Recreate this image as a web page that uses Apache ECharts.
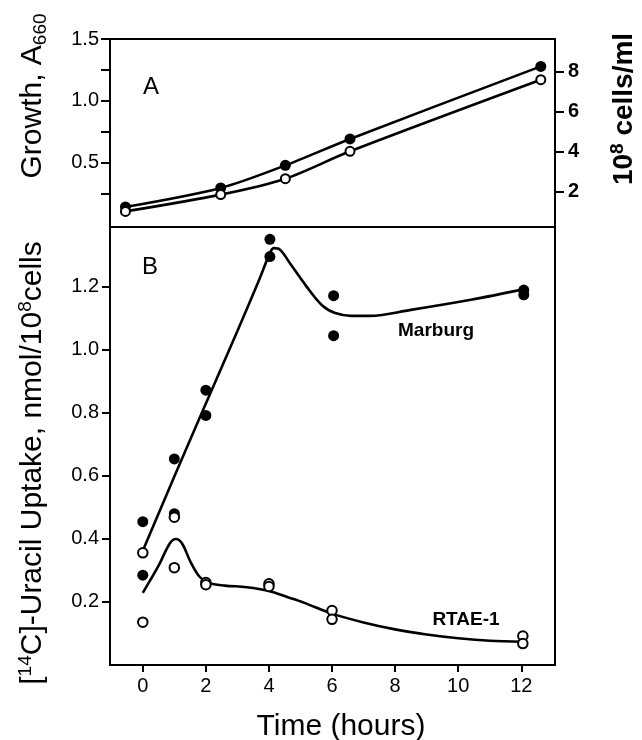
<!DOCTYPE html>
<html>
<head>
<meta charset="utf-8">
<script src="https://cdn.jsdelivr.net/npm/echarts@6/dist/echarts.min.js"></script>
<style>
  html, body { margin: 0; padding: 0; background: #fff; }
  #chart { width: 642px; height: 740px; }
</style>
</head>
<body>
<div id="chart"></div>
<script>
// panel A: growth (A660) of the two cultures
var growthHours = [-0.55, 2.47, 4.52, 6.57, 12.62]
var growthFilled = [0.139, 0.293, 0.476, 0.690, 1.278]
var growthOpen = [0.103, 0.239, 0.368, 0.590, 1.170]

// panel B: measured uptake points
var marburgHours = [0, 0, 1, 1, 2, 2, 4.03, 4.03, 6.05, 6.05, 12.08, 12.08]
var marburgValues = [0.455, 0.285, 0.654, 0.480, 0.872, 0.792, 1.351, 1.296, 1.172, 1.045, 1.190, 1.175]
var rtaeHours = [0, 0, 1, 1, 2, 2, 4, 4, 6, 6, 12.05, 12.05]
var rtaeValues = [0.356, 0.136, 0.469, 0.309, 0.262, 0.255, 0.258, 0.249, 0.173, 0.145, 0.092, 0.068]

// panel B: drawn curves
var marburgFitHours = [0.02, 1, 2, 3, 3.7, 4.0, 4.15, 4.35, 4.7, 5.2, 5.7, 6.1, 6.6, 7.2, 8.5, 10.4, 12.05]
var marburgFitValues = [0.367, 0.598, 0.83, 1.06, 1.225, 1.30, 1.323, 1.318, 1.27, 1.20, 1.14, 1.117, 1.108, 1.108, 1.127, 1.159, 1.192]
var rtaeFitHours = [0, 0.5, 0.85, 1.05, 1.25, 1.5, 1.8, 2.1, 2.6, 3.3, 4, 4.6, 5.1, 6, 7, 8, 9, 10, 11, 12.05]
var rtaeFitValues = [0.229, 0.315, 0.385, 0.40, 0.385, 0.33, 0.28, 0.26, 0.252, 0.247, 0.235, 0.215, 0.198, 0.163, 0.135, 0.113, 0.097, 0.085, 0.077, 0.074]

// tick labels
var hourTicks = [0, 2, 4, 6, 8, 10, 12]
var growthTicks = [0.25, 0.5, 0.75, 1.0, 1.25, 1.5]
var growthLabels = [0.5, 1.0, 1.5]
var cellTicks = [2, 4, 6, 8]
var uptakeTicks = [0.2, 0.4, 0.6, 0.8, 1.0, 1.2]

function pairs(xs, ys) {
  var out = []
  for (var i = 0; i < xs.length; i++) out.push([xs[i], ys[i]])
  return out
}

var FONT = 'Liberation Sans'
var chart = echarts.init(document.getElementById('chart'))

var axisLine = { show: true, onZero: false, lineStyle: { color: '#000', width: 2 } }

var option = {
  animation: false,
  backgroundColor: '#fff',
  textStyle: { fontFamily: FONT, color: '#000' },
  grid: [
    { left: 110, top: 39, width: 445, height: 188, show: true, borderColor: '#000', borderWidth: 2 },
    { left: 110, top: 227, width: 445, height: 438, show: true, borderColor: '#000', borderWidth: 2 }
  ],
  xAxis: [
    {
      gridIndex: 0, type: 'value', min: -1.04, max: 13.07,
      axisLine: { show: false, onZero: false }, axisTick: { show: false }, axisLabel: { show: false }, splitLine: { show: false }
    },
    {
      gridIndex: 1, type: 'value', position: 'bottom', min: -1.04, max: 13.07,
      axisLine: axisLine,
      axisTick: { show: true, length: 7, customValues: hourTicks, lineStyle: { color: '#000', width: 2 } },
      axisLabel: { customValues: hourTicks, margin: 11, fontSize: 20, color: '#000', fontFamily: FONT },
      splitLine: { show: false }
    }
  ],
  yAxis: [
    {
      gridIndex: 0, type: 'value', position: 'left', min: -0.0235, max: 1.5,
      axisLine: axisLine,
      axisTick: { show: true, length: 9, customValues: growthTicks, lineStyle: { color: '#000', width: 2 } },
      axisLabel: {
        customValues: growthLabels, margin: 11, fontSize: 20, color: '#000', fontFamily: FONT,
        formatter: function (v) { return v.toFixed(1) }
      },
      splitLine: { show: false }
    },
    {
      gridIndex: 0, type: 'value', position: 'right', min: 0.22, max: 9.62,
      axisLine: axisLine,
      axisTick: { show: true, length: 9, customValues: cellTicks, lineStyle: { color: '#000', width: 2 } },
      axisLabel: { customValues: cellTicks, margin: 13, fontSize: 20, fontWeight: 'bold', color: '#000', fontFamily: FONT },
      splitLine: { show: false }
    },
    {
      gridIndex: 1, type: 'value', position: 'left', min: 0, max: 1.39,
      axisLine: axisLine,
      axisTick: { show: true, length: 8, customValues: uptakeTicks, lineStyle: { color: '#000', width: 2 } },
      axisLabel: {
        customValues: uptakeTicks, margin: 11, fontSize: 20, color: '#000', fontFamily: FONT,
        formatter: function (v) { return v.toFixed(1) }
      },
      splitLine: { show: false }
    }
  ],
  series: [
    {
      type: 'line', xAxisIndex: 0, yAxisIndex: 0, data: pairs(growthHours, growthFilled), smooth: 0.3,
      symbol: 'circle', symbolSize: 11, itemStyle: { color: '#000' }, lineStyle: { color: '#000', width: 2.6 }, z: 3
    },
    {
      type: 'line', xAxisIndex: 0, yAxisIndex: 0, data: pairs(growthHours, growthOpen), smooth: 0.3,
      symbol: 'circle', symbolSize: 9, itemStyle: { color: '#fff', borderColor: '#000', borderWidth: 2 },
      lineStyle: { color: '#000', width: 2.6 }, z: 4
    },
    {
      type: 'line', xAxisIndex: 1, yAxisIndex: 2, data: pairs(marburgFitHours, marburgFitValues), smooth: 0.35,
      showSymbol: false, lineStyle: { color: '#000', width: 2.6 }, z: 2
    },
    {
      type: 'line', xAxisIndex: 1, yAxisIndex: 2, data: pairs(rtaeFitHours, rtaeFitValues), smooth: 0.35,
      showSymbol: false, lineStyle: { color: '#000', width: 2.6 }, z: 2
    },
    {
      type: 'scatter', xAxisIndex: 1, yAxisIndex: 2, data: pairs(marburgHours, marburgValues),
      symbol: 'circle', symbolSize: 11, itemStyle: { color: '#000', opacity: 1 }, z: 3
    },
    {
      type: 'scatter', xAxisIndex: 1, yAxisIndex: 2, data: pairs(rtaeHours, rtaeValues),
      symbol: 'circle', symbolSize: 9.5, itemStyle: { color: '#fff', borderColor: '#000', borderWidth: 2, opacity: 1 }, z: 4
    }
  ],
  graphic: [
    {
      type: 'text', x: 33, y: 96, rotation: Math.PI / 2,
      style: {
        text: 'Growth, A{sub|660}', font: '30px ' + FONT, fill: '#000', align: 'center', verticalAlign: 'middle',
        lineHeight: 34, rich: { sub: { fontSize: 19, fontFamily: FONT, lineHeight: 20, verticalAlign: 'bottom' } }
      }
    },
    {
      type: 'text', x: 33, y: 463, rotation: Math.PI / 2,
      style: {
        text: '[{sup|14}C]-Uracil Uptake, nmol/10{sup|8}cells', font: '30px ' + FONT, fill: '#000',
        align: 'center', verticalAlign: 'middle', lineHeight: 34,
        rich: { sup: { fontSize: 19, fontFamily: FONT, lineHeight: 20, verticalAlign: 'top' } }
      }
    },
    {
      type: 'text', x: 624, y: 109, rotation: Math.PI / 2,
      style: {
        text: '10{sup|8} cells/ml', font: 'bold 28px ' + FONT, fill: '#000',
        align: 'center', verticalAlign: 'middle', lineHeight: 32,
        rich: { sup: { fontSize: 19, fontWeight: 'bold', fontFamily: FONT, lineHeight: 20, verticalAlign: 'top' } }
      }
    },
    {
      type: 'text', x: 341, y: 727,
      style: { text: 'Time (hours)', font: '30px ' + FONT, fill: '#000', align: 'center', verticalAlign: 'middle' }
    },
    {
      type: 'text', x: 151, y: 87,
      style: { text: 'A', font: '24px ' + FONT, fill: '#000', align: 'center', verticalAlign: 'middle' }
    },
    {
      type: 'text', x: 150, y: 267,
      style: { text: 'B', font: '24px ' + FONT, fill: '#000', align: 'center', verticalAlign: 'middle' }
    },
    {
      type: 'text', x: 436, y: 331,
      style: { text: 'Marburg', font: 'bold 19px ' + FONT, fill: '#000', align: 'center', verticalAlign: 'middle' }
    },
    {
      type: 'text', x: 466, y: 620,
      style: { text: 'RTAE-1', font: 'bold 19px ' + FONT, fill: '#000', align: 'center', verticalAlign: 'middle' }
    }
  ]
}

chart.setOption(option)
window.onresize = chart.resize
</script>
</body>
</html>
